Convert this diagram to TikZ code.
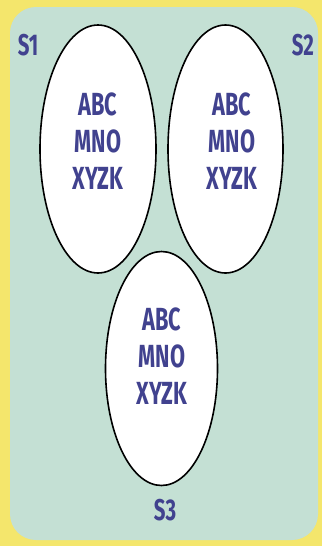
\documentclass[tikz,border=0pt]{standalone}
\usepackage{fontspec}
\setmainfont{Fira Sans}
\definecolor{bgyellow}{HTML}{F4E66C}
\definecolor{panel}{HTML}{C4E0D4}
\definecolor{txtblue}{HTML}{41428F}
\tikzset{
  setshape/.style={draw=black, line width=1.6pt, fill=white},
  settext/.style={text=txtblue, font=\fontsize{32}{37}\selectfont\bfseries, align=center, inner sep=0pt},
  setlabel/.style={text=txtblue, font=\fontsize{30}{30}\selectfont\bfseries, inner sep=0pt}
}
\newcommand{\narrow}[1]{\scalebox{0.68}[1]{#1}}
\begin{document}
\begin{tikzpicture}[x=1pt,y=-1pt]
\useasboundingbox (0,0) rectangle (322,546);
\fill[bgyellow] (0,0) rectangle (322,546);
\fill[panel, rounded corners=26pt] (10,7) rectangle (318,540);
\draw[setshape] (98,149) ellipse [x radius=58, y radius=124];
\draw[setshape] (225.5,149) ellipse [x radius=57.5, y radius=124];
\draw[setshape] (161.5,368.5) ellipse [x radius=56, y radius=117];
\node[settext] (t1) at (98,141) {\narrow{ABC}\\\narrow{MNO}\\\narrow{XYZK}};
\node[settext] (t2) at (232,141) {\narrow{ABC}\\\narrow{MNO}\\\narrow{XYZK}};
\node[settext] (t3) at (162,356) {\narrow{ABC}\\\narrow{MNO}\\\narrow{XYZK}};
\node[setlabel] (s1) at (28,45) {\narrow{S1}};
\node[setlabel] (s2) at (303,45) {\narrow{S2}};
\node[setlabel] (s3) at (165,510) {\narrow{S3}};
\end{tikzpicture}
\end{document}
